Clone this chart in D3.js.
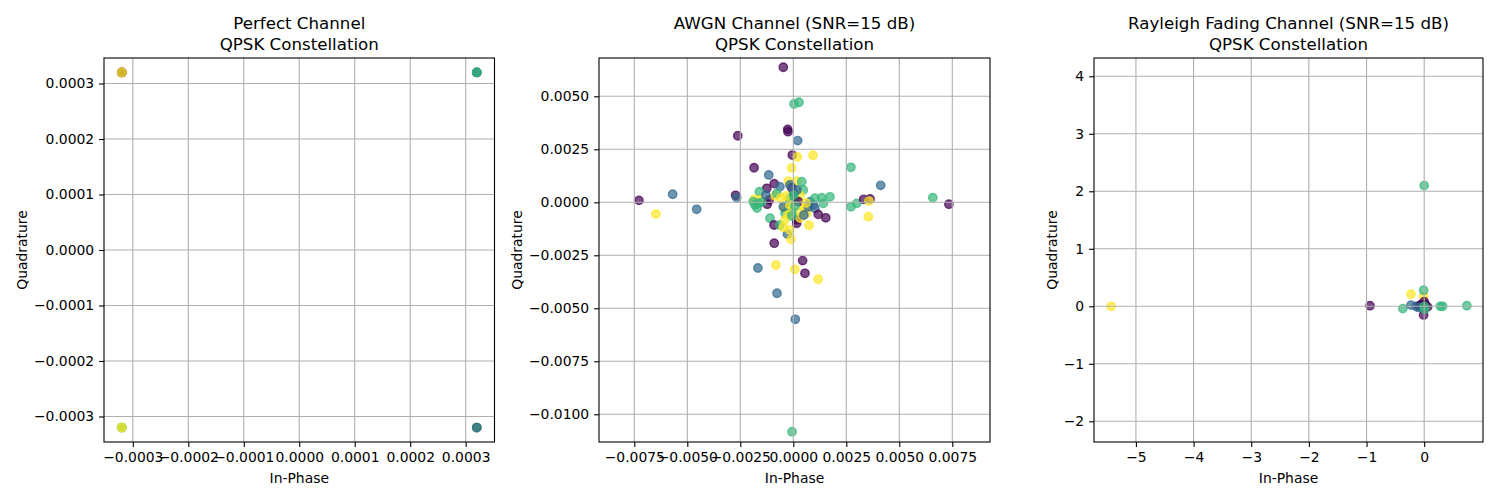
<!DOCTYPE html>
<html><head><meta charset="utf-8">
<script src="https://cdn.jsdelivr.net/npm/d3@7"></script>
<style>body{margin:0;background:#fff} svg{display:block} text{font-family:"DejaVu Sans",sans-serif}</style>
</head><body><svg id="c" width="1500" height="500"></svg>
<script>
// ---------- data ----------
const panelTitles = [
  ["Perfect Channel", "QPSK Constellation"],
  ["AWGN Channel (SNR=15 dB)", "QPSK Constellation"],
  ["Rayleigh Fading Channel (SNR=15 dB)", "QPSK Constellation"]
];
const xLabel = "In-Phase";
const yLabel = "Quadrature";

// symbol index 0..3 -> viridis colour
const perfectI = [-0.00032, 0.00032, -0.00032, 0.00032, -0.00032, 0.00032, -0.00032, 0.00032, -0.00032, 0.00032, -0.00032, 0.00032, -0.00032, 0.00032, -0.00032, 0.00032, -0.00032];
const perfectQ = [0.00032, 0.00032, -0.00032, -0.00032, 0.00032, 0.00032, -0.00032, -0.00032, 0.00032, 0.00032, -0.00032, -0.00032, 0.00032, 0.00032, -0.00032, -0.00032, 0.00032];
const perfectC = [3, 1, 2, 1, 0, 2, 3, 3, 3, 1, 2, 2, 0, 2, 3, 1, 3];

const awgnI = [-0.000472, 0.000033, 0.000269, -0.00262, -0.000264, -0.00025, 0.000208, -0.000047, 0.000189, 0.000929, -0.00185, -0.000075, 0.00272, -0.00116, -0.00569, -0.00272, -0.00267, 0.00412, -0.0009, -0.00125, -0.00063, -0.0016, -0.000236, 0.00016, -0.000075, 0.0004, 0.00047, -0.00456, -0.00728, -0.00648, -0.00184, -0.00157, -0.00181, -0.00123, -0.00113, -0.00086, -0.00078, -0.00039, -0.00016, -0.00016, 0.00008, 0.00032, 0.00024, 0.00032, 0.00055, 0.00063, 0.00079, 0.00094, 0.00071, 0.00102, 0.00118, 0.00153, 0.00102, 0.00134, 0.00173, 0.00142, -0.0011, -0.00091, -0.00063, -0.00028, -0.00016, 0.00016, 0.00016, 0.00074, -0.00039, -0.000075, -0.00047, -0.00011, -0.0009, 0.00272, 0.00299, 0.00332, 0.00362, 0.00357, 0.00354, 0.00658, 0.00734, 0.00044, -0.00167, -0.00082, 0.000066, 0.00055, 0.00117, -0.00077, 0.000094, -0.00006, -0.00047, -0.00016, -0.00025, 0.00008, -0.00034, -0.00058, 0.00003, 0.00017, -0.00148, -0.00171, -0.00129, -0.00189, 0.00032, -0.00039, -0.00006, -0.00016, 0.0006, 0.0005, -0.00165, 0.00001];
const awgnQ = [0.00637, 0.00464, 0.00472, 0.00314, 0.00344, 0.00333, 0.00291, 0.00223, 0.00214, 0.00222, 0.00163, 0.00162, 0.00165, 0.00129, 0.00038, 0.00033, 0.00022, 0.0008, 0.00088, 0.00066, 0.00074, 0.0005, 0.001, 0.001, 0.00069, 0.00097, 0.00058, -0.00033, 0.00009, -0.00055, 0.00014, 0.00011, -0.00013, -0.00009, 0.00011, 0.0003, 0.00042, -0.00028, 0.00019, 0.00003, 0.00019, 0.00034, 0.00003, -0.00044, -0.00028, -0.00052, 0.00003, -0.00013, -0.00021, -0.00028, -0.00057, -0.00073, 0.00019, 0.00022, 0.00026, -0.00005, -0.00075, -0.00107, -0.00107, -0.0015, -0.00131, -0.00083, -0.00099, -0.00108, -0.00052, -0.00044, -0.00118, -0.00175, -0.00193, -0.00021, -0.00005, 0.00014, 0.00016, 0.00006, -0.00068, 0.00022, -0.00009, -0.00275, -0.0031, -0.00296, -0.00316, -0.00335, -0.00363, -0.00429, -0.00552, -0.01082, -0.00021, -0.00013, -0.0006, -0.00017, 0.0003, 0.0002, 0.00044, 0.00058, 0.00001, -0.00027, 0.00034, 0.00003, -0.00074, -0.00083, -0.00065, 0.00082, -0.00003, -0.0006, -0.00005, 0.00034];
const awgnC = [0, 2, 2, 0, 0, 0, 1, 0, 3, 3, 0, 3, 2, 1, 1, 0, 1, 1, 0, 0, 1, 2, 3, 3, 0, 2, 2, 1, 0, 3, 3, 3, 2, 0, 0, 3, 2, 3, 2, 2, 2, 3, 0, 3, 3, 3, 1, 1, 1, 1, 0, 0, 2, 2, 2, 2, 2, 0, 2, 1, 3, 0, 0, 3, 2, 2, 3, 3, 0, 2, 2, 0, 0, 3, 3, 2, 0, 0, 1, 3, 3, 0, 3, 1, 1, 2, 1, 3, 3, 2, 3, 3, 1, 1, 2, 2, 1, 2, 3, 3, 2, 1, 3, 1, 2, 2];

const rayI = [-5.43, -0.94, 0.0, 0.74, 0.32, 0.28, -0.37, -0.23, -0.14, -0.23, -0.01, -0.08, -0.05, 0.06, -0.01, 0.0, -0.02, -0.1, 0.02, 0.01, -0.01, 0.0];
const rayQ = [0.0, 0.01, 2.1, 0.01, 0.0, 0.0, -0.04, 0.02, 0.0, 0.21, 0.17, 0.01, 0.03, -0.01, -0.15, 0.08, -0.02, -0.02, 0.03, -0.05, 0.28, 0.0];
const rayC = [3, 0, 2, 2, 2, 2, 2, 1, 1, 3, 3, 0, 0, 0, 0, 0, 1, 1, 0, 2, 2, 2];

const perfectXTicks = [-0.0003, -0.0002, -0.0001, 0, 0.0001, 0.0002, 0.0003];
const perfectYTicks = [-0.0003, -0.0002, -0.0001, 0, 0.0001, 0.0002, 0.0003];
const awgnXTicks = [-0.0075, -0.005, -0.0025, 0, 0.0025, 0.005, 0.0075];
const awgnYTicks = [-0.01, -0.0075, -0.005, -0.0025, 0, 0.0025, 0.005];
const rayXTicks = [-5, -4, -3, -2, -1, 0];
const rayYTicks = [-2, -1, 0, 1, 2, 3, 4];

// ---------- layout ----------
const svg = d3.select("#c");
const plotTop = 58, plotBottom = 442;
const color = d3.scaleSequential(d3.interpolateViridis).domain([0, 3]);

const panels = [
  { x0: 104, x1: 494.5, xd: [-0.000352, 0.000352], yd: [-0.000346, 0.000346], I: perfectI, Q: perfectQ, C: perfectC, xt: perfectXTicks, yt: perfectYTicks, fmt: d3.format(".4f") },
  { x0: 599, x1: 990, xd: [-0.009165, 0.009278], yd: [-0.011307, 0.006807], I: awgnI, Q: awgnQ, C: awgnC, xt: awgnXTicks, yt: awgnYTicks, fmt: d3.format(".4f") },
  { x0: 1094, x1: 1483, xd: [-5.727, 1.02], yd: [-2.36, 4.318], I: rayI, Q: rayQ, C: rayC, xt: rayXTicks, yt: rayYTicks, fmt: d3.format("d") }
];

panels.forEach((p, k) => {
  const x = d3.scaleLinear().domain(p.xd).range([p.x0, p.x1]);
  const y = d3.scaleLinear().domain(p.yd).range([plotBottom, plotTop]);
  const g = svg.append("g");
  const cid = "clip" + k;
  svg.append("clipPath").attr("id", cid).append("rect")
    .attr("x", p.x0).attr("y", plotTop).attr("width", p.x1 - p.x0).attr("height", plotBottom - plotTop);

  const pts = p.I.map((v, i) => ({ i: v, q: p.Q[i], c: p.C[i] }));
  g.append("g").attr("clip-path", `url(#${cid})`).selectAll("circle").data(pts).join("circle")
    .attr("cx", d => x(d.i)).attr("cy", d => y(d.q)).attr("r", 4.2)
    .attr("fill", d => color(d.c)).attr("fill-opacity", 0.7)
    .attr("stroke", d => color(d.c)).attr("stroke-opacity", 0.7).attr("stroke-width", 1.4);

  const grid = g.append("g").attr("stroke", "#b0b0b0").attr("stroke-width", 1.1);
  grid.selectAll(".gx").data(p.xt).join("line")
    .attr("x1", d => x(d)).attr("x2", d => x(d)).attr("y1", plotTop).attr("y2", plotBottom);
  grid.selectAll(".gy").data(p.yt).join("line")
    .attr("y1", d => y(d)).attr("y2", d => y(d)).attr("x1", p.x0).attr("x2", p.x1);

  const ax = g.append("g").attr("transform", `translate(0,${plotBottom})`)
    .call(d3.axisBottom(x).tickValues(p.xt).tickFormat(p.fmt).tickSize(4.9).tickPadding(4.9));
  const ay = g.append("g").attr("transform", `translate(${p.x0},0)`)
    .call(d3.axisLeft(y).tickValues(p.yt).tickFormat(p.fmt).tickSize(4.9).tickPadding(4.9));
  [ax, ay].forEach(a => {
    a.select(".domain").remove();
    a.selectAll("line").attr("stroke", "#000").attr("stroke-width", 1.1);
    a.selectAll("text").attr("font-size", "13.9px").attr("fill", "#000").attr("font-family", "DejaVu Sans");
  });

  g.append("rect").attr("x", p.x0).attr("y", plotTop).attr("width", p.x1 - p.x0).attr("height", plotBottom - plotTop)
    .attr("fill", "none").attr("stroke", "#000").attr("stroke-width", 1.1);

  const cx = (p.x0 + p.x1) / 2;
  g.append("text").attr("x", cx).attr("y", 483).attr("text-anchor", "middle").attr("font-size", "13.9px").text(xLabel);
  const bw = ay.node().getBBox().width;
  const lx = p.x0 - bw - 5.6 - 1;
  g.append("text").attr("transform", `translate(${lx},${(plotTop + plotBottom) / 2}) rotate(-90)`)
    .attr("text-anchor", "middle").attr("font-size", "13.9px").text(yLabel);

  const t = g.append("text").attr("x", cx).attr("text-anchor", "middle").attr("font-size", "16.67px");
  t.append("tspan").attr("x", cx).attr("y", 29).text(panelTitles[k][0]);
  t.append("tspan").attr("x", cx).attr("y", 50).text(panelTitles[k][1]);
});
</script>
</body></html>
